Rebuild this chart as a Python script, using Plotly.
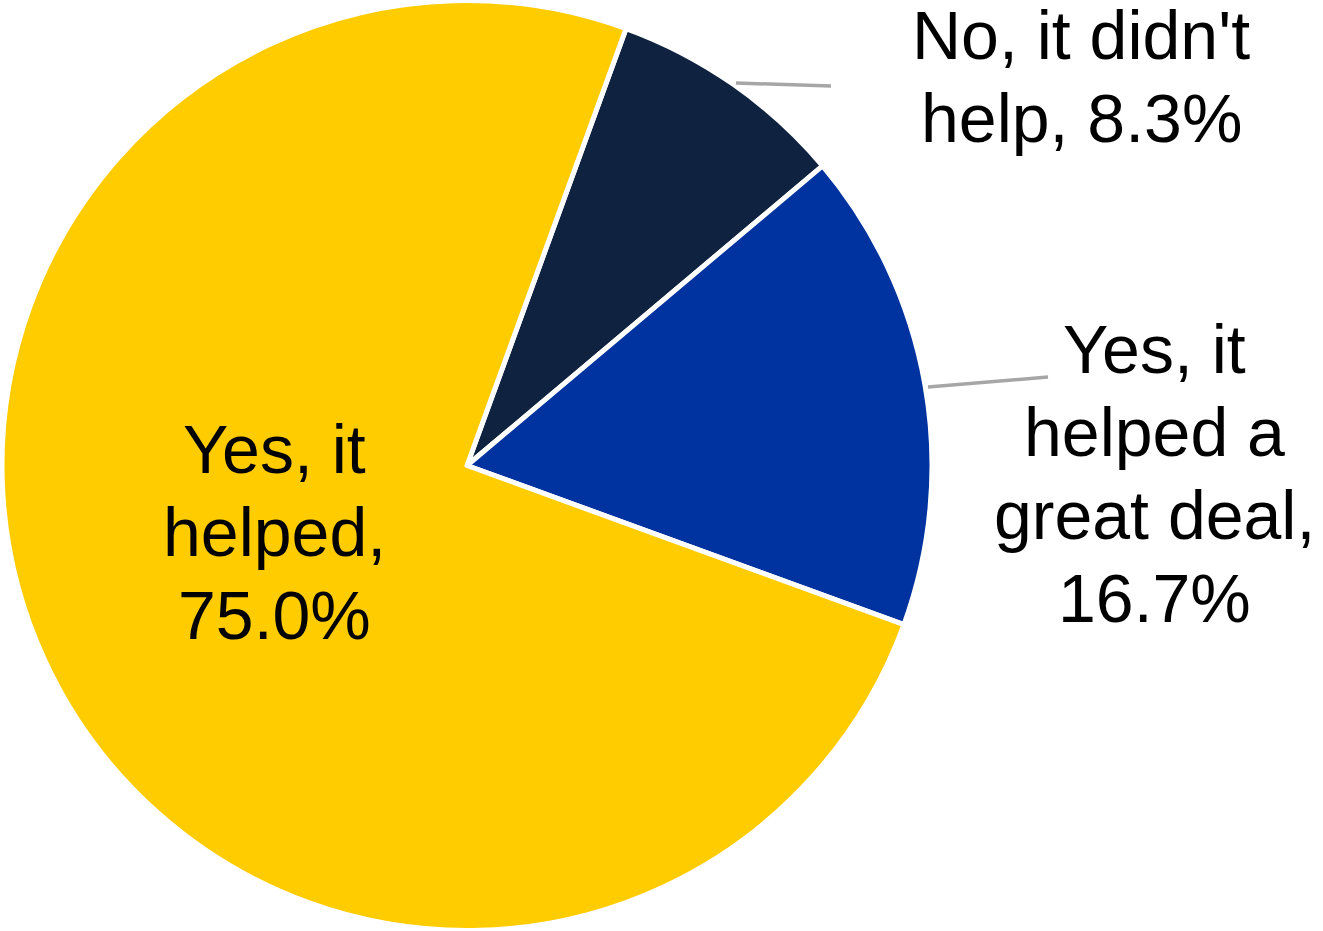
import plotly.graph_objects as go

# ---- data ----
labels = ["No, it didn't help", "Yes, it helped a great deal", "Yes, it helped"]
values = [8.3, 16.7, 75.0]
colors = ["#0F2240", "#0033A0", "#FFCC00"]
label_lines = [
    ["No, it didn't", "help, {v:.1f}%"],
    ["Yes, it", "helped a", "great deal,", "{v:.1f}%"],
    ["Yes, it", "helped,", "{v:.1f}%"],
]

W, H = 1323, 931
FONT = "Liberation Sans, Arial, Helvetica, sans-serif"
FS = 68
LINE_GAP = 83          # px between baselines
CAP = 0.716 * FS

fig = go.Figure()
fig.add_trace(go.Pie(
    labels=labels,
    values=values,
    sort=False,
    direction="clockwise",
    rotation=20,
    marker=dict(colors=colors, line=dict(color="white", width=5)),
    textinfo="none",
    hoverinfo="label+percent",
    showlegend=False,
    domain=dict(x=[2 / W, 932 / W], y=[0, 1]),
))

def px(x, y):
    return x / W, 1 - y / H

# label placement: (centre x, first baseline y) in pixels
label_pos = [(1081, 61), (1154, 375), (274, 475)]
for lines, v, (cx, by) in zip(label_lines, values, label_pos):
    for i, line in enumerate(lines):
        base = by + i * LINE_GAP
        x, y = px(cx, base - CAP / 2 - 2)
        fig.add_annotation(
            x=x, y=y, xref="paper", yref="paper",
            text=line.format(v=v), showarrow=False, align="center",
            xanchor="center", yanchor="middle",
            font=dict(family=FONT, size=FS, color="#000000"),
        )

# leader lines
leaders = [((736, 83), (831, 86)), ((928, 387), (1048, 377))]
for (x0, y0), (x1, y1) in leaders:
    a0, b0 = px(x0, y0)
    a1, b1 = px(x1, y1)
    fig.add_shape(type="line", xref="paper", yref="paper",
                  x0=a0, y0=b0, x1=a1, y1=b1,
                  line=dict(color="#A6A6A6", width=3.5))

fig.update_layout(
    width=W, height=H,
    margin=dict(l=0, r=0, t=0, b=0),
    paper_bgcolor="white",
    plot_bgcolor="white",
    font=dict(family=FONT),
)

fig.write_html(
    "out.html",
    config={"displayModeBar": False},
    post_script="document.body.style.margin='0';document.body.style.overflow='hidden';",
)
